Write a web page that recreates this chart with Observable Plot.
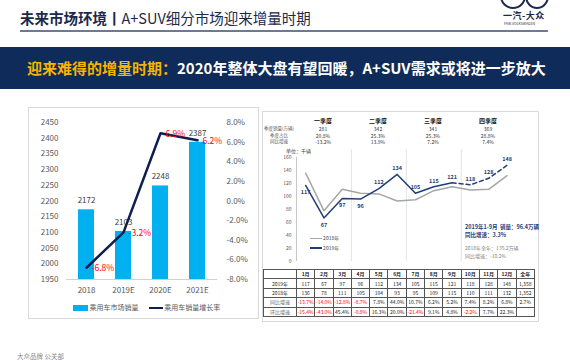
<!DOCTYPE html>
<html><head><meta charset="utf-8">
<script src="https://cdn.jsdelivr.net/npm/d3@7"></script>
<script src="https://cdn.jsdelivr.net/npm/@observablehq/plot@0.6"></script>
<style>
body{margin:0;width:570px;height:360px;overflow:hidden;background:#fff;font-family:"Noto Sans CJK SC","Noto Sans",sans-serif;position:relative}
.abs{position:absolute}
table.t{border-collapse:collapse;table-layout:fixed;font-size:5px;color:#222}
table.t td{border:0.6px solid #555;height:8.4px;padding:0;text-align:center;line-height:8px;white-space:nowrap;overflow:hidden}
.red{color:#ff0000}
</style></head><body>
<script>
// ---- left chart data ----
const years = ["2018", "2019E", "2020E", "2021E"];
const sales = [2172, 2103, 2248, 2387];
const growth = [-6.8, -3.2, 6.9, 6.2];
const leftTicks = [1950, 2000, 2050, 2100, 2150, 2200, 2250, 2300, 2350, 2400, 2450];
const rightTicks = [-8, -6, -4, -2, 0, 2, 4, 6, 8];
const legendLabels = ["乘用车市场销量", "乘用车销量增长率"];

// ---- right chart data ----
const monthLabels = ["1月","2月","3月","4月","5月","6月","7月","8月","9月","10月","11月","12月","全年"];
const sales2019 = [117, 67, 97, 96, 112, 134, 105, 115, 121, 118, 128, 148];
const sales2018 = [136, 78, 111, 105, 104, 93, 95, 109, 115, 110, 111, 132];
const total2019 = "1,358";
const total2018 = "1,352";
const yoyRow = ["-13.7%","-14.0%","-12.8%","-8.7%","7.8%","44.0%","10.7%","6.2%","5.2%","7.4%","8.2%","6.8%","2.7%"];
const momRow = ["-15.4%","-43.0%","45.4%","-0.8%","16.3%","20.0%","-21.4%","9.1%","4.8%","-2.2%","7.7%","22.3%",""];
const rightYTicks = [0, 20, 40, 60, 80, 100, 120, 140, 160];
const quarters = ["一季度", "二季度", "三季度", "四季度"];
const qRowLabels = ["季度销量(万辆)", "季度占比", "同比增速"];
const qSales = ["281", "342", "341", "369"];
const qShare = ["20.8%", "25.3%", "25.3%", "28.8%"];
const qYoy = ["-13.2%", "13.9%", "7.2%", "7.4%"];
</script>

<!-- header -->
<div class="abs" style="left:20px;top:7px;font-size:14.5px;color:#1b2a4a;line-height:22px;white-space:nowrap"><b>未来市场环境丨</b>A+SUV细分市场迎来增量时期</div>
<div class="abs" style="left:20px;top:30px;width:528px;height:2px;background:#6c7a96"></div>
<div class="abs" style="left:500px;top:-17px;width:22px;height:22px;border:2px solid #1b2a4a;border-radius:50%"></div>
<div class="abs" style="left:525px;top:-17px;width:20px;height:22px;border:2px solid #1b2a4a;border-radius:50%"></div>
<div class="abs" style="left:503px;top:9px;font-size:9px;font-weight:bold;color:#1b2a4a;letter-spacing:0.5px;white-space:nowrap">一汽-大众</div>
<div class="abs" style="left:504px;top:21px;font-size:3.5px;color:#1b2a4a;white-space:nowrap">FAW-VOLKSWAGEN</div>

<div class="abs" style="left:0;top:47px;width:570px;height:42px;background:#0e2b59"></div>
<div class="abs" style="left:27px;top:47px;height:42px;line-height:42px;font-size:15px;font-weight:bold;color:#fff;white-space:nowrap"><span style="color:#f7b500">迎来难得的增量时期：</span>2020年整体大盘有望回暖，A+SUV需求或将进一步放大</div>

<!-- left panel -->
<div class="abs" style="left:28px;top:107px;width:229px;height:210px;border:1px solid #d9d9d9"></div>
<div id="leftBars" class="abs" style="left:28px;top:107px"></div>
<div id="leftLine" class="abs" style="left:28px;top:107px"></div>
<div id="leftLegend" class="abs" style="left:73px;top:302px;font-size:7px;color:#595959;white-space:nowrap;line-height:10px"></div>

<!-- right panel -->
<div class="abs" style="left:262px;top:111px;width:275px;height:209px;border:1px solid #d9d9d9"></div>
<div id="qBlock" class="abs" style="left:0;top:0"></div>
<div class="abs" style="left:286px;top:147px;font-size:5px;color:#444;white-space:nowrap">单位：千辆</div>
<div id="rightChart" class="abs" style="left:262px;top:140px"></div>
<div id="rightLegend" class="abs" style="left:310px;top:233px;font-size:5px;color:#444;line-height:9.5px;white-space:nowrap"></div>
<div class="abs" style="left:465px;top:223px;font-size:5.5px;font-weight:bold;color:#1f3d7a;line-height:8px;white-space:nowrap">2019年1-9月 &nbsp;销量：96.4万辆<br>同比增速：3.3%</div>
<div class="abs" style="left:465px;top:244px;font-size:5px;color:#7f7f7f;line-height:7.5px;white-space:nowrap">2018年全年：135.2万辆<br>同比增速：-10.2%</div>
<div id="tableBox" class="abs" style="left:263px;top:269px"></div>

<div class="abs" style="left:17px;top:351px;font-size:6.5px;color:#8a8a8a;white-space:nowrap">大众品牌 公关部</div>

<script>
const font = '"Noto Sans CJK SC","Noto Sans",sans-serif';
const barData = years.map((y, i) => ({year: y, sales: sales[i], growth: growth[i]}));
const dims = {width: 230, height: 211, marginLeft: 38, marginRight: 41, marginTop: 15, marginBottom: 39};
const xBand = {type: "band", domain: years, paddingInner: 0.576, paddingOuter: 0.288, label: null};

const leftPlot = Plot.plot({
  ...dims,
  style: {fontFamily: font, fontSize: "8px", color: "#595959", background: "transparent", overflow: "visible"},
  x: xBand,
  y: {domain: [1950, 2450], label: null},
  marks: [
    Plot.barY(barData, {x: "year", y1: 1950, y2: "sales", fill: "#00b0f0"}),
    Plot.ruleY([1950], {stroke: "#d0d0d0", strokeWidth: 1}),
    Plot.text(barData, {x: "year", y: "sales", text: d => String(d.sales), dy: -9, fill: "#404040", fontSize: 8}),
    Plot.axisY({ticks: leftTicks, tickFormat: d => String(d), tickSize: 0, tickPadding: 8, fill: "#595959"}),
    Plot.axisX({tickSize: 0, tickPadding: 8, fill: "#595959"})
  ]
});
document.getElementById("leftBars").appendChild(leftPlot);

const linePlot = Plot.plot({
  ...dims,
  style: {fontFamily: font, fontSize: "8px", color: "#595959", background: "transparent", overflow: "visible"},
  x: {...xBand, axis: null},
  y: {domain: [-8, 8], label: null, axis: null},
  marks: [
    Plot.line(barData, {x: "year", y: "growth", stroke: "#0c1f4f", strokeWidth: 2.5}),
    Plot.text(barData, {x: "year", y: "growth", text: d => d.growth.toFixed(1) + "%", dx: 5, dy: 1, textAnchor: "start", fill: "#ff0000", fontSize: 8.5}),
    Plot.axisY({anchor: "right", ticks: rightTicks, tickFormat: d => d.toFixed(1) + "%", tickSize: 0, tickPadding: 9, fill: "#595959"})
  ]
});
document.getElementById("leftLine").appendChild(linePlot);

document.getElementById("leftLegend").innerHTML =
  `<span style="display:inline-block;width:15px;height:6px;background:#00b0f0;vertical-align:middle"></span> ${legendLabels[0]}` +
  `<span style="display:inline-block;width:14px;height:2.5px;background:#0c1f4f;vertical-align:middle;margin-left:10px"></span> ${legendLabels[1]}`;

// quarter block
const qx = [323, 378, 433, 488];
let qh = "";
quarters.forEach((q, i) => {
  qh += `<div class="abs" style="left:${qx[i]-15}px;width:30px;top:116px;text-align:center;font-size:6px;font-weight:bold;color:#111">${q}</div>`;
  [qSales, qShare, qYoy].forEach((arr, r) => {
    qh += `<div class="abs" style="left:${qx[i]-15}px;width:30px;top:${125 + r*6.7}px;text-align:center;font-size:5px;color:#333">${arr[i]}</div>`;
  });
});
qRowLabels.forEach((l, r) => {
  qh += `<div class="abs" style="left:262px;width:34px;top:${125 + r*6.7}px;text-align:center;font-size:4.5px;color:#555;white-space:nowrap">${l}</div>`;
});
document.getElementById("qBlock").innerHTML = qh;

// right line chart
const mData = sales2019.map((v, i) => ({m: i + 1, v19: v, v18: sales2018[i]}));
const rightPlot = Plot.plot({
  width: 276, height: 128, marginLeft: 34, marginRight: 4, marginTop: 17, marginBottom: 7,
  style: {fontFamily: font, fontSize: "5px", color: "#555", background: "transparent", overflow: "visible"},
  x: {domain: [0.5, 13.5], axis: null},
  y: {domain: [0, 160], label: null},
  marks: [
    Plot.ruleX([3.5, 6.5, 9.5], {y1: 0, y2: 172, stroke: "#e4e4e4"}),
    Plot.ruleX([0.5], {y1: 0, y2: 160, stroke: "#c8c8c8"}),
    Plot.axisY({ticks: rightYTicks, tickSize: 0, tickPadding: 5, fill: "#555"}),
    Plot.line(mData, {x: "m", y: "v18", stroke: "#a6a6a6", strokeWidth: 1.5}),
    Plot.line(mData.filter(d => d.m <= 9), {x: "m", y: "v19", stroke: "#1f3d7a", strokeWidth: 1.5}),
    Plot.line(mData.filter(d => d.m >= 9), {x: "m", y: "v19", stroke: "#1f3d7a", strokeWidth: 1.5, strokeDasharray: "4,3"}),
    Plot.text(mData.filter(d => d.m <= 4), {x: "m", y: "v19", text: d => String(d.v19), dy: 7, fill: "#1f3d7a", fontSize: 5.5, fontWeight: "bold"}),
    Plot.text(mData.filter(d => d.m > 4), {x: "m", y: "v19", text: d => String(d.v19), dy: -6, fill: "#1f3d7a", fontSize: 5.5, fontWeight: "bold"})
  ]
});
document.getElementById("rightChart").appendChild(rightPlot);

document.getElementById("rightLegend").innerHTML =
  `<div><span style="display:inline-block;width:12px;height:1.5px;background:#a6a6a6;vertical-align:middle"></span> 2018年</div>` +
  `<div><span style="display:inline-block;width:12px;height:1.5px;background:#1f3d7a;vertical-align:middle"></span> 2019年</div>`;

// table
const isNeg = s => s.trim().startsWith("-");
let th = `<table class="t"><colgroup><col style="width:33px">` + monthLabels.map(() => `<col style="width:18.3px">`).join("") + `</colgroup>`;
th += `<tr><td></td>` + monthLabels.map(m => `<td style="font-weight:bold">${m}</td>`).join("") + `</tr>`;
th += `<tr><td>2019年</td>` + sales2019.map(v => `<td>${v}</td>`).join("") + `<td>${total2019}</td></tr>`;
th += `<tr><td>2018年</td>` + sales2018.map(v => `<td>${v}</td>`).join("") + `<td>${total2018}</td></tr>`;
th += `<tr><td style="color:#666">同比增速</td>` + yoyRow.map(v => `<td class="${isNeg(v) ? "red" : ""}">${v}</td>`).join("") + `</tr>`;
th += `<tr><td style="color:#666">环比增速</td>` + momRow.map(v => `<td class="${isNeg(v) ? "red" : ""}">${v}</td>`).join("") + `</tr>`;
th += `</table>`;
document.getElementById("tableBox").innerHTML = th;
</script>
</body></html>
